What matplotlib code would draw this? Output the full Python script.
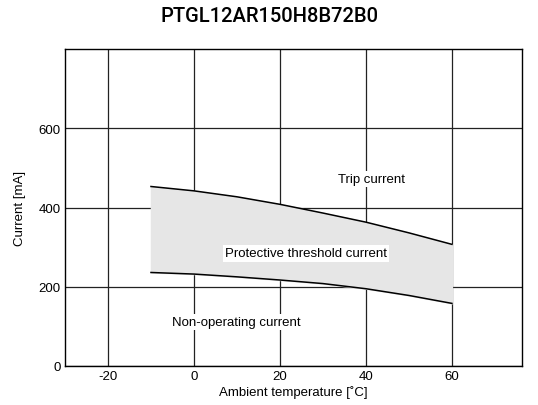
import matplotlib
matplotlib.use("Agg")
import matplotlib.pyplot as plt

temps = [-10, 0, 10, 20, 30, 40, 50, 60]
trip = [453, 442, 427, 408, 386, 363, 336, 307]
hold = [236, 232, 225, 217, 208, 195, 178, 158]
xticks = [-20, 0, 20, 40, 60]
yticks = [0, 200, 400, 600]

plt.rcParams['font.family'] = ['Liberation Sans', 'DejaVu Sans']
plt.rcParams['axes.unicode_minus'] = False
fig = plt.figure(figsize=(5.38, 4.06), dpi=100)
ax = fig.add_axes([65/538, 1-367/406, (522-65)/538, (367-50)/406])
ax.set_xlim(-30, 76.3)
ax.set_ylim(0, 800)
ax.set_xticks(xticks)
ax.set_yticks(yticks)
ax.grid(True, color='#222222', linewidth=0.9)
ax.set_axisbelow(True)
ax.fill_between(temps, hold, trip, color='#e6e6e6', zorder=2)
ax.plot(temps, trip, color='black', linewidth=1.1, zorder=3)
ax.plot(temps, hold, color='black', linewidth=1.1, zorder=3)
for s in ax.spines.values():
    s.set_linewidth(1.0)
ax.tick_params(length=0, labelsize=9.5, pad=3)
ax.set_xlabel('Ambient temperature [˚C]', fontsize=9.5, labelpad=2)
ax.set_ylabel('Current [mA]', fontsize=9.5, labelpad=9)
bb = dict(facecolor='white', edgecolor='none', pad=1.5)
ax.text(41.4, 471, 'Trip current', ha='center', va='center', fontsize=9.5, bbox=bb, zorder=4)
ax.text(26, 284, 'Protective threshold current', ha='center', va='center', fontsize=9.5, bbox=bb, zorder=4)
ax.text(9.8, 111, 'Non-operating current', ha='center', va='center', fontsize=9.5, bbox=bb, zorder=4)
fig.text(0.5, 1-17/406, 'PTGL12AR150H8B72B0', ha='center', va='center', fontsize=14.5,
         fontweight=500, family=['Roboto', 'DejaVu Sans'])
fig.savefig('out.png', dpi=100)
